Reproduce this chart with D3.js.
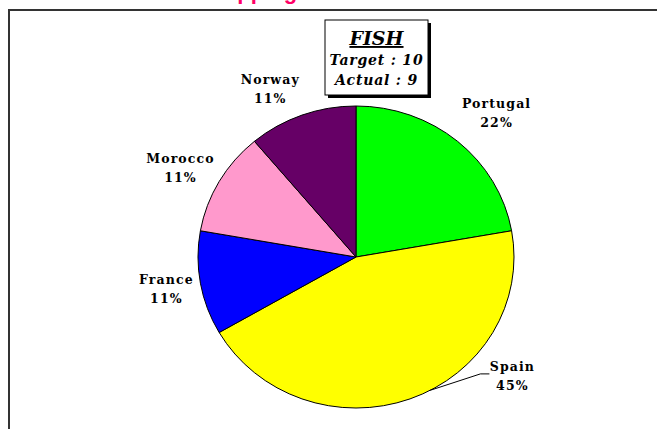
<!DOCTYPE html>
<html>
  <head>
    <title>Fish pie</title>
    <script src="https://cdn.jsdelivr.net/npm/d3@7"></script>
    <style>
      body { margin: 0; background: #fff; }
      svg { display: block; }
    </style>
  </head>
  <body>
    <svg width="657" height="429"></svg>

    <script type="text/javascript">
      // chart data
      var countries = ["Portugal", "Spain", "France", "Morocco", "Norway"];
      var counts = [2, 4, 1, 1, 1];
      var percentLabels = ["22%", "45%", "11%", "11%", "11%"];
      var sliceColors = ["#00ff00", "#ffff00", "#0000ff", "#ff99cc", "#660066"];
      var title = "FISH";
      var target = 10;
      var actual = 9;

      var svg = d3.select("svg");

      // red heading, mostly cut off at the top of the picture
      svg.append("text")
        .attr("x", 203)
        .attr("y", -1)
        .attr("font-family", "Liberation Sans, Arial, sans-serif")
        .attr("font-weight", "bold")
        .attr("font-size", "22px")
        .attr("fill", "#ff0066")
        .text("Shipping");

      // frame (top and left edges)
      svg.append("path")
        .attr("d", "M9,429 V10 H657")
        .attr("fill", "none")
        .attr("stroke", "#333")
        .attr("stroke-width", 2);

      var cx = 356, cy = 257, r = 151, sx = 158 / 151;

      var pie = d3.pie().sort(null).value(function (d) { return d; });
      var arcs = pie(counts);
      var arc = d3.arc().innerRadius(0).outerRadius(r);

      var g = svg.append("g")
        .attr("transform", "translate(" + cx + "," + cy + ") scale(" + sx + ",1)");

      g.selectAll("path")
        .data(arcs)
        .enter()
        .append("path")
        .attr("d", arc)
        .attr("fill", function (d, i) { return sliceColors[i]; })
        .attr("stroke", "#000")
        .attr("stroke-width", 1)
        .attr("vector-effect", "non-scaling-stroke");

      // point on the (elliptical) pie for an angle in radians
      function polar(a, rad) {
        return [cx + Math.sin(a) * rad * sx, cy - Math.cos(a) * rad];
      }

      // label nudges in degrees from the slice middle
      var labelShift = [3, -31.5, 0, -2, -6];
      var labelRadius = [197, 191, 184, 190, 187];

      var labels = svg.append("g")
        .attr("font-family", "DejaVu Serif, serif")
        .attr("font-weight", "bold")
        .attr("font-size", "12.5px")
        .attr("fill", "#000")
        .attr("text-anchor", "middle");

      arcs.forEach(function (d, i) {
        var mid = (d.startAngle + d.endAngle) / 2 + labelShift[i] * Math.PI / 180;
        var p = polar(mid, labelRadius[i]);
        var t = labels.append("text")
          .attr("x", p[0])
          .attr("y", p[1] - 5);
        t.append("tspan").attr("x", p[0]).attr("letter-spacing", "1.1px").text(countries[i]);
        t.append("tspan").attr("x", p[0]).attr("dy", 19).attr("letter-spacing", "1.1px").text(percentLabels[i]);

        // leader line for the moved Spain label
        if (i === 1) {
          var e = polar((d.startAngle + d.endAngle) / 2 - 8 * Math.PI / 180, r);
          svg.append("polyline")
            .attr("points", [e, [p[0] - 32, p[1] - 2], [p[0] - 23, p[1] - 2]].map(function (q) { return q.join(","); }).join(" "))
            .attr("fill", "none")
            .attr("stroke", "#000")
            .attr("stroke-width", 1);
        }
      });

      // title box with shadow
      var bx = 325, by = 20, bw = 103, bh = 75;
      svg.append("rect")
        .attr("x", bx + 3).attr("y", by + 3)
        .attr("width", bw).attr("height", bh)
        .attr("fill", "#000");
      svg.append("rect")
        .attr("x", bx).attr("y", by)
        .attr("width", bw).attr("height", bh)
        .attr("fill", "#fff")
        .attr("stroke", "#000")
        .attr("stroke-width", 1);

      var box = svg.append("g")
        .attr("font-family", "DejaVu Serif, serif")
        .attr("font-weight", "bold")
        .attr("font-style", "italic")
        .attr("text-anchor", "middle")
        .attr("fill", "#000");
      box.append("text")
        .attr("x", bx + bw / 2).attr("y", by + 25)
        .attr("font-size", "19px")
        .attr("text-decoration", "underline")
        .text(title);
      box.append("text")
        .attr("x", bx + bw / 2).attr("y", by + 45)
        .attr("font-size", "14px")
        .attr("letter-spacing", "0.8px")
        .text("Target : " + target);
      box.append("text")
        .attr("x", bx + bw / 2).attr("y", by + 65)
        .attr("font-size", "14px")
        .attr("letter-spacing", "0.8px")
        .text("Actual : " + actual);
    </script>
  </body>
</html>
